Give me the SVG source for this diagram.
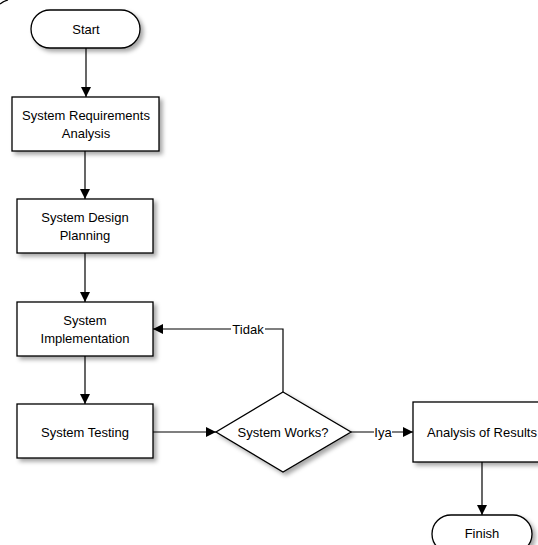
<svg xmlns="http://www.w3.org/2000/svg" width="538" height="545" viewBox="0 0 538 545">
<style>
.n{fill:#fff;stroke:#000;stroke-width:1.3}
.t{font-family:"Liberation Sans",Arial,sans-serif;font-size:13px;fill:#000;text-anchor:middle;dominant-baseline:central}
.c{fill:none;stroke:#000;stroke-width:1.2}
.lb{fill:#fff}
</style>
<defs>
<filter id="sh" x="-20%" y="-20%" width="150%" height="160%">
<feDropShadow dx="3" dy="3" stdDeviation="2" flood-color="#000" flood-opacity="0.35"/>
</filter>
<marker id="ah" viewBox="0 0 10 10" refX="10" refY="5" markerWidth="10" markerHeight="10" markerUnits="userSpaceOnUse" orient="auto">
<path d="M0,0L10,5L0,10z" fill="#000"/>
</marker>
</defs>
<path d="M0,4 Q4,1 8,0" fill="none" stroke="#000" stroke-width="1.2"/>
<g id="connectors">
<path class="c" d="M86,48V97" marker-end="url(#ah)"/>
<path class="c" d="M85,151V199" marker-end="url(#ah)"/>
<path class="c" d="M85,253V302" marker-end="url(#ah)"/>
<path class="c" d="M85,356V404" marker-end="url(#ah)"/>
<path class="c" d="M153,432H216" marker-end="url(#ah)"/>
<path class="c" d="M283,392V329H153" marker-end="url(#ah)"/>
<path class="c" d="M351,432H413" marker-end="url(#ah)"/>
<path class="c" d="M482,462V515" marker-end="url(#ah)"/>
<rect class="lb" x="231" y="322" width="34" height="14"/>
<text class="t" x="248" y="329">Tidak</text>
<rect class="lb" x="374" y="425" width="18" height="14"/>
<text class="t" x="383" y="432">Iya</text>
</g>
<g id="start">
<rect class="n" x="31" y="10" width="109" height="38" rx="19" filter="url(#sh)"/>
<text class="t" x="86" y="29">Start</text>
</g>
<g id="requirements">
<rect class="n" x="12" y="97" width="147" height="54" filter="url(#sh)"/>
<text class="t" x="86" y="115">System Requirements</text>
<text class="t" x="86" y="133">Analysis</text>
</g>
<g id="design">
<rect class="n" x="17" y="199" width="136" height="54" filter="url(#sh)"/>
<text class="t" x="85" y="217">System Design</text>
<text class="t" x="85" y="235">Planning</text>
</g>
<g id="implementation">
<rect class="n" x="17" y="302" width="136" height="54" filter="url(#sh)"/>
<text class="t" x="85" y="320">System</text>
<text class="t" x="85" y="338">Implementation</text>
</g>
<g id="testing">
<rect class="n" x="17" y="404" width="136" height="54" filter="url(#sh)"/>
<text class="t" x="85" y="432">System Testing</text>
</g>
<g id="decision">
<path class="n" d="M283,392L351,432L283,472L216,432Z" filter="url(#sh)"/>
<text class="t" x="283" y="432">System Works?</text>
</g>
<g id="analysis">
<rect class="n" x="413" y="402" width="138" height="60" filter="url(#sh)"/>
<text class="t" x="482" y="432">Analysis of Results</text>
</g>
<g id="finish">
<rect class="n" x="432" y="515" width="100" height="38" rx="19" filter="url(#sh)"/>
<text class="t" x="482" y="533">Finish</text>
</g>
</svg>
